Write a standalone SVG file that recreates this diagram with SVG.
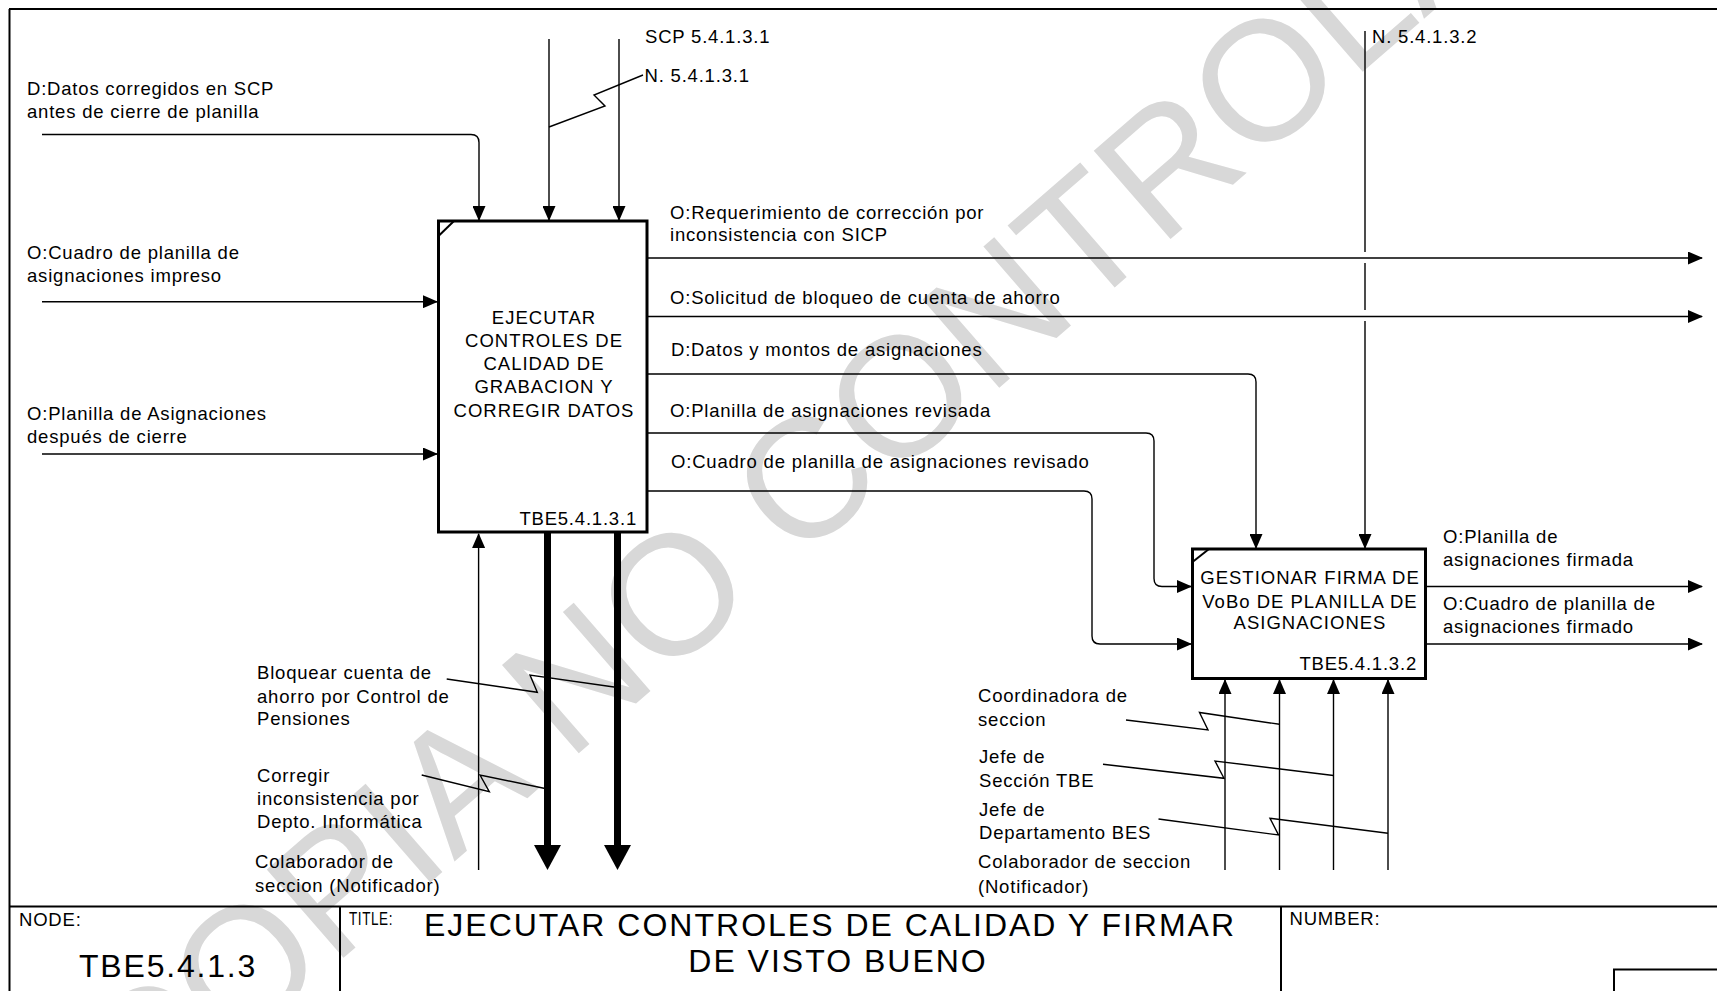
<svg xmlns="http://www.w3.org/2000/svg" width="1717" height="991" viewBox="0 0 1717 991">
<defs>
<style>
.t{font-family:"Liberation Sans",Arial,sans-serif;font-size:18.5px;letter-spacing:0.8px;fill:#000}
.bt{font-family:"Liberation Sans",Arial,sans-serif;font-size:18.5px;letter-spacing:1px;fill:#000;text-anchor:middle}
.id{font-family:"Liberation Sans",Arial,sans-serif;font-size:18.5px;letter-spacing:0.8px;fill:#000;text-anchor:end}
.big{font-family:"Liberation Sans",Arial,sans-serif;font-size:32px;letter-spacing:2px;fill:#000}
.ln{fill:none;stroke:#000;stroke-width:1.4}
.arr{fill:none;stroke:#000;stroke-width:1.4;marker-end:url(#ah)}
.thick{fill:none;stroke:#000;stroke-width:7;marker-end:url(#ahb)}
.box{fill:#fff;stroke:#000;stroke-width:3}
.frame{fill:none;stroke:#000;stroke-width:2}
.wm{font-family:"Liberation Sans",Arial,sans-serif;font-size:170px;fill:#d8d8d8;text-anchor:middle}
</style>
<marker id="ah" markerUnits="userSpaceOnUse" markerWidth="15" markerHeight="13" refX="14" refY="6.5" orient="auto">
<path d="M0,0 L15,6.5 L0,13 z" fill="#000"/>
</marker>
<marker id="ahb" markerUnits="userSpaceOnUse" markerWidth="25" markerHeight="27" refX="1" refY="13.5" orient="auto">
<path d="M0,0 L25,13.5 L0,27 z" fill="#000"/>
</marker>
</defs>
<rect x="0" y="0" width="1717" height="991" fill="#fff"/>
<text class="wm" transform="translate(914,462) rotate(-41)">COPIA NO CONTROLADA</text>
<g id="frame">
<path class="frame" d="M9,9 H1717 M9.5,9 V991 M9,906.5 H1717 M340,906.5 V991 M1281,906.5 V991 M1614,991 V969.5 H1717"/>
<text class="t" x="19" y="926">NODE:</text>
<text class="big" x="79" y="977" style="letter-spacing:1.8px">TBE5.4.1.3</text>
<text class="t" x="349" y="925" textLength="44" lengthAdjust="spacingAndGlyphs">TITLE:</text>
<text class="big" x="830" y="936" text-anchor="middle">EJECUTAR CONTROLES DE CALIDAD Y FIRMAR</text>
<text class="big" x="838" y="972" text-anchor="middle">DE VISTO BUENO</text>
<text class="t" x="1289.5" y="925">NUMBER:</text>
</g>
<g id="connectors">
<path class="arr" d="M42,134.5 H471 Q479,134.5 479,142.5 V220"/>
<path class="arr" d="M549,39 V220"/>
<path class="arr" d="M619,39 V220"/>
<path class="ln" d="M549,127 L605,106 L594,95 L643,75"/>
<path class="arr" d="M42,301.7 H437"/>
<path class="arr" d="M42,454 H437"/>
<path class="arr" d="M648,258 H1702"/>
<path class="arr" d="M648,316.5 H1702"/>
<path class="arr" d="M648,374 H1248 Q1256,374 1256,382 V548"/>
<path class="arr" d="M648,433 H1146 Q1154,433 1154,441 V578.5 Q1154,586.5 1162,586.5 H1191"/>
<path class="arr" d="M648,491 H1084 Q1092,491 1092,499 V636 Q1092,644 1100,644 H1191"/>
<path class="ln" d="M1365,31 V252 M1365,263 V310 M1365,321 V540"/>
<path class="arr" d="M1365,538 V548"/>
<path class="arr" d="M478.6,870 V534"/>
<path class="thick" d="M547.5,533 V846"/>
<path class="thick" d="M617.5,533 V846"/>
<path class="ln" d="M446.7,679 L537.3,692.3 L530,675 L617.5,687.5"/>
<path class="ln" d="M421.7,775 L489.3,791.7 L480,775 L547.5,789"/>
<path class="arr" d="M1225,870 V680"/>
<path class="arr" d="M1279.5,870 V680"/>
<path class="arr" d="M1333.5,870 V680"/>
<path class="arr" d="M1388,870 V680"/>
<path class="ln" d="M1126,720 L1208,730 L1199.5,712.5 L1279.5,724.3"/>
<path class="ln" d="M1103,764.3 L1224,778.3 L1215,761 L1333.5,775.5"/>
<path class="ln" d="M1158.5,819 L1278.5,835 L1270,818.3 L1388,833.3"/>
<path class="arr" d="M1427,586.5 H1702"/>
<path class="arr" d="M1427,644 H1702"/>
</g>
<g id="labels">
<text class="t" x="645" y="42.5">SCP 5.4.1.3.1</text>
<text class="t" x="644.5" y="81.7">N. 5.4.1.3.1</text>
<text class="t" x="1372" y="42.5">N. 5.4.1.3.2</text>
<text class="t" x="27" y="95">D:Datos corregidos en SCP</text>
<text class="t" x="27" y="118">antes de cierre de planilla</text>
<text class="t" x="27" y="258.5">O:Cuadro de planilla de</text>
<text class="t" x="27" y="281.5">asignaciones impreso</text>
<text class="t" x="27" y="420">O:Planilla de Asignaciones</text>
<text class="t" x="27" y="443">después de cierre</text>
<text class="t" x="670" y="219.3">O:Requerimiento de corrección por</text>
<text class="t" x="670" y="241">inconsistencia con SICP</text>
<text class="t" x="670" y="304.3">O:Solicitud de bloqueo de cuenta de ahorro</text>
<text class="t" x="671" y="355.7">D:Datos y montos de asignaciones</text>
<text class="t" x="670" y="416.7">O:Planilla de asignaciones revisada</text>
<text class="t" x="671" y="468">O:Cuadro de planilla de asignaciones revisado</text>
<text class="t" x="257" y="679.3">Bloquear cuenta de</text>
<text class="t" x="257" y="702.7">ahorro por Control de</text>
<text class="t" x="257" y="725">Pensiones</text>
<text class="t" x="257" y="781.7">Corregir</text>
<text class="t" x="257" y="805">inconsistencia por</text>
<text class="t" x="257" y="828.3">Depto. Informática</text>
<text class="t" x="255" y="868.3">Colaborador de</text>
<text class="t" x="255" y="891.7">seccion (Notificador)</text>
<text class="t" x="1443" y="543.3">O:Planilla de</text>
<text class="t" x="1443" y="566">asignaciones firmada</text>
<text class="t" x="1443" y="610">O:Cuadro de planilla de</text>
<text class="t" x="1443" y="632.7">asignaciones firmado</text>
<text class="t" x="978" y="702.3">Coordinadora de</text>
<text class="t" x="978" y="725.7">seccion</text>
<text class="t" x="979" y="763.3">Jefe de</text>
<text class="t" x="979" y="786.7">Sección TBE</text>
<text class="t" x="979" y="816">Jefe de</text>
<text class="t" x="979" y="839.3">Departamento BES</text>
<text class="t" x="978" y="868.3">Colaborador de seccion</text>
<text class="t" x="978" y="893.3">(Notificador)</text>
</g>
<g id="node-TBE5.4.1.3.1">
<rect class="box" x="438.5" y="221" width="208.5" height="311"/>
<path class="ln" d="M438.5,236 L454,221" style="stroke-width:2"/>
<text class="bt" x="544" y="324.3">EJECUTAR</text>
<text class="bt" x="544" y="347.3">CONTROLES DE</text>
<text class="bt" x="544" y="370.3">CALIDAD DE</text>
<text class="bt" x="544" y="393.3">GRABACION Y</text>
<text class="bt" x="544" y="416.7">CORREGIR DATOS</text>
<text class="id" x="637" y="525">TBE5.4.1.3.1</text>
</g>
<g id="node-TBE5.4.1.3.2">
<rect class="box" x="1192.5" y="549" width="233" height="129.5"/>
<path class="ln" d="M1192.5,562 L1209,549" style="stroke-width:2"/>
<text class="bt" x="1310" y="584">GESTIONAR FIRMA DE</text>
<text class="bt" x="1310" y="607.7">VoBo DE PLANILLA DE</text>
<text class="bt" x="1310" y="629">ASIGNACIONES</text>
<text class="id" x="1417" y="670">TBE5.4.1.3.2</text>
</g>
</svg>
